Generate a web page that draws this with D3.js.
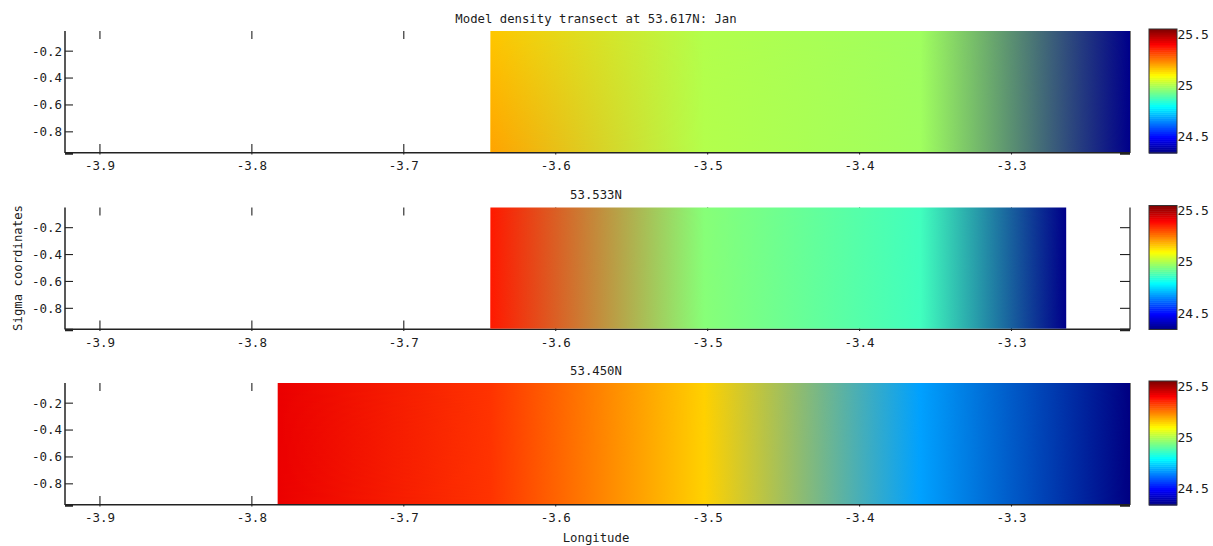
<!DOCTYPE html>
<html>
<head>
<meta charset="utf-8">
<script src="https://cdn.jsdelivr.net/npm/d3@7"></script>
<style>
  html, body { margin: 0; padding: 0; background: #fff; }
  svg { display: block; }
  text { font-family: "DejaVu Sans Mono", monospace; fill: #1c1c1c; }
</style>
</head>
<body>
<svg id="chart" width="1213" height="546"></svg>
<script>
// ---- data -------------------------------------------------------------
const panelTitles = ["Model density transect at 53.617N: Jan", "53.533N", "53.450N"];
const lonTicks = [-3.9, -3.8, -3.7, -3.6, -3.5, -3.4, -3.3];
const sigmaTicks = [-0.2, -0.4, -0.6, -0.8];
const cbarTicks = [24.5, 25, 25.5];
const lonRange = [-3.923, -3.222];
const sigmaRange = [-0.95, -0.05];
const densityRange = [24.34, 25.55];

// transect nodes (longitude) and density (sigma-t) at surface / bed layer
const lon617 = [-3.643, -3.502, -3.360, -3.222];
const rhoSurf617 = [25.163, 25.006, 24.984, 24.352];
const rhoBed617 = [25.205, 25.006, 24.984, 24.352];

const lon533 = [-3.643, -3.502, -3.360, -3.264];
const rhoSurf533 = [25.369, 24.954, 24.871, 24.352];
const rhoBed533 = [25.369, 24.954, 24.871, 24.352];

const lon450 = [-3.783, -3.643, -3.502, -3.360, -3.222];
const rhoSurf450 = [25.423, 25.338, 25.151, 24.682, 24.343];
const rhoBed450 = [25.423, 25.338, 25.151, 24.682, 24.343];

// ---- layout -----------------------------------------------------------
const svg = d3.select("#chart");
const defs = svg.append("defs");
const axLeft = 65, axRight = 1130, plotH = 121;
const panelTops = [31, 207.5, 383];
const cbX = 1149, cbW = 28;
const ink = "#222";
// plain ASCII hyphen for negative numbers
const fmt = d3.formatLocale({ decimal: ".", thousands: ",", grouping: [3], currency: ["", ""], minus: "-" }).format(".1f");

const x = d3.scaleLinear().domain(lonRange).range([axLeft, axRight]);

// jet colormap
function jet(t) {
  const c = v => Math.max(0, Math.min(1, v));
  return d3.rgb(
    255 * c(1.5 - Math.abs(4 * t - 3)),
    255 * c(1.5 - Math.abs(4 * t - 2)),
    255 * c(1.5 - Math.abs(4 * t - 1))
  ).formatHex();
}
const norm = d3.scaleLinear().domain(densityRange).range([0, 1]).clamp(true);
const colour = v => jet(norm(v));

const panels = [
  { title: panelTitles[0], lon: lon617, surf: rhoSurf617, bed: rhoBed617 },
  { title: panelTitles[1], lon: lon533, surf: rhoSurf533, bed: rhoBed533 },
  { title: panelTitles[2], lon: lon450, surf: rhoSurf450, bed: rhoBed450 }
];

// vertical blend mask: transparent at the surface, opaque at the bed
const vg = defs.append("linearGradient").attr("id", "vblend")
  .attr("x1", 0).attr("y1", 0).attr("x2", 0).attr("y2", 1);
vg.append("stop").attr("offset", 0).attr("stop-color", "#000");
vg.append("stop").attr("offset", 1).attr("stop-color", "#fff");
defs.append("mask").attr("id", "bedmask")
  .attr("maskContentUnits", "objectBoundingBox")
  .append("rect").attr("width", 1).attr("height", 1).attr("fill", "url(#vblend)");

function lonGradient(id, lon, vals) {
  const x0 = x(lon[0]), x1 = x(lon[lon.length - 1]);
  const g = defs.append("linearGradient").attr("id", id)
    .attr("gradientUnits", "userSpaceOnUse")
    .attr("x1", x0).attr("x2", x1).attr("y1", 0).attr("y2", 0);
  lon.forEach((l, i) => {
    g.append("stop").attr("offset", (x(l) - x0) / (x1 - x0)).attr("stop-color", colour(vals[i]));
  });
}

panels.forEach((p, k) => {
  const top = panelTops[k], bottom = top + plotH;
  const y = d3.scaleLinear().domain(sigmaRange).range([bottom, top]);
  const g = svg.append("g");

  // frame (no top edge), ticks pointing inwards
  const frame = g.append("g").attr("stroke", ink).attr("fill", "none");
  frame.append("line").attr("x1", axLeft).attr("x2", axLeft).attr("y1", top).attr("y2", bottom + 1).attr("stroke-width", 1.5);
  frame.append("line").attr("x1", axRight).attr("x2", axRight).attr("y1", top).attr("y2", bottom + 1).attr("stroke-width", 1.2);
  frame.append("line").attr("x1", axLeft).attr("x2", axRight).attr("y1", bottom + 0.75).attr("y2", bottom + 0.75).attr("stroke-width", 1.5);
  sigmaTicks.forEach(s => {
    frame.append("line").attr("x1", axLeft).attr("x2", axLeft + 8).attr("y1", y(s)).attr("y2", y(s)).attr("stroke-width", 1.1);
    frame.append("line").attr("x1", axRight - 10).attr("x2", axRight).attr("y1", y(s)).attr("y2", y(s)).attr("stroke-width", 1.1);
  });
  lonTicks.forEach(l => {
    frame.append("line").attr("x1", x(l)).attr("x2", x(l)).attr("y1", bottom - 8).attr("y2", bottom + 2.5).attr("stroke-width", 1.1);
    frame.append("line").attr("x1", x(l)).attr("x2", x(l)).attr("y1", top).attr("y2", top + 8).attr("stroke-width", 1.1);
  });
  frame.append("line").attr("x1", axLeft).attr("x2", axLeft + 8).attr("y1", bottom + 1.5).attr("y2", bottom + 1.5).attr("stroke-width", 2.5);
  frame.append("line").attr("x1", axRight - 10).attr("x2", axRight).attr("y1", bottom + 1.5).attr("y2", bottom + 1.5).attr("stroke-width", 2.5);

  // density section
  lonGradient("surf" + k, p.lon, p.surf);
  lonGradient("bed" + k, p.lon, p.bed);
  const rx = x(p.lon[0]), rw = x(p.lon[p.lon.length - 1]) - rx;
  g.append("rect").attr("x", rx).attr("y", y(sigmaRange[1])).attr("width", rw)
    .attr("height", y(sigmaRange[0]) - y(sigmaRange[1])).attr("fill", `url(#surf${k})`);
  g.append("rect").attr("x", rx).attr("y", y(sigmaRange[1])).attr("width", rw)
    .attr("height", y(sigmaRange[0]) - y(sigmaRange[1])).attr("fill", `url(#bed${k})`)
    .attr("mask", "url(#bedmask)");

  // tick labels
  sigmaTicks.forEach(s => {
    g.append("text").attr("x", axLeft - 3).attr("y", y(s)).attr("dy", "0.35em")
      .attr("text-anchor", "end").attr("font-size", 12.5).text(fmt(s));
  });
  lonTicks.forEach(l => {
    g.append("text").attr("x", x(l)).attr("y", bottom + 14).attr("dy", "0.35em")
      .attr("text-anchor", "middle").attr("font-size", 12.5).text(fmt(l));
  });

  // title
  g.append("text").attr("x", 596).attr("y", top - 12.5).attr("dy", "0.35em")
    .attr("text-anchor", "middle").attr("font-size", 12.3).text(p.title);

  // colour bar (64 levels)
  const cbTop = top - 2, cbBottom = top + 122;
  const cb = d3.scaleLinear().domain(densityRange).range([cbBottom, cbTop]);
  const n = 64, step = (densityRange[1] - densityRange[0]) / n;
  g.append("g").selectAll("rect").data(d3.range(n)).join("rect")
    .attr("x", cbX).attr("width", cbW)
    .attr("y", i => cb(densityRange[0] + (i + 1) * step))
    .attr("height", i => cb(densityRange[0] + i * step) - cb(densityRange[0] + (i + 1) * step) + 0.5)
    .attr("fill", i => jet((i + 0.5) / n));
  g.append("rect").attr("x", cbX).attr("y", cbTop).attr("width", cbW).attr("height", cbBottom - cbTop)
    .attr("fill", "none").attr("stroke", "#333").attr("stroke-width", 1);
  cbarTicks.forEach(v => {
    g.append("text").attr("x", cbX + cbW + 0.5).attr("y", cb(v)).attr("dy", "0.35em")
      .attr("font-size", 13).text(v);
  });
});

// axis titles
svg.append("text").attr("x", 596).attr("y", 538).attr("dy", "0.35em")
  .attr("text-anchor", "middle").attr("font-size", 12.3).text("Longitude");
svg.append("text").attr("transform", "translate(18,268) rotate(-90)").attr("dy", "0.35em")
  .attr("text-anchor", "middle").attr("font-size", 12.3).text("Sigma coordinates");
</script>
</body>
</html>
